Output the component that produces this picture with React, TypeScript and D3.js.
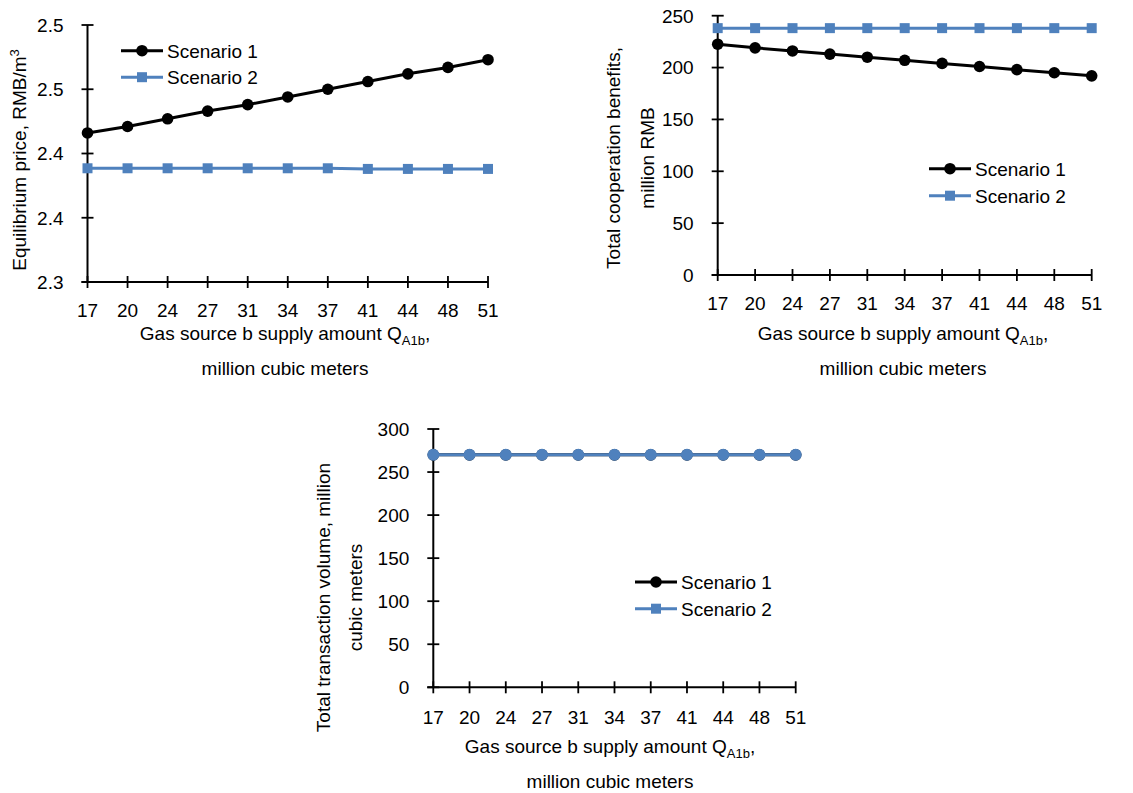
import React from "react";
import * as d3 from "d3";

const categories = ["17", "20", "24", "27", "31", "34", "37", "41", "44", "48", "51"];

const priceS1 = [2.416, 2.421, 2.427, 2.433, 2.438, 2.444, 2.45, 2.456, 2.462, 2.467, 2.473];
const priceS2 = [2.3885, 2.3885, 2.3885, 2.3885, 2.3885, 2.3885, 2.3885, 2.388, 2.388, 2.388, 2.388];
const priceTicks = [2.3, 2.35, 2.4, 2.45, 2.5];
const priceTickLabels = ["2.3", "2.4", "2.4", "2.5", "2.5"];

const benefitS1 = [222.5, 219, 216, 213, 210, 207, 204, 201, 198, 195, 192];
const benefitS2 = [238, 238, 238, 238, 238, 238, 238, 238, 238, 238, 238];
const benefitTicks = [0, 50, 100, 150, 200, 250];
const benefitTickLabels = ["0", "50", "100", "150", "200", "250"];

const volumeS1 = [270, 270, 270, 270, 270, 270, 270, 270, 270, 270, 270];
const volumeS2 = [270, 270, 270, 270, 270, 270, 270, 270, 270, 270, 270];
const volumeTicks = [0, 50, 100, 150, 200, 250, 300];
const volumeTickLabels = ["0", "50", "100", "150", "200", "250", "300"];

const seriesNames = ["Scenario 1", "Scenario 2"];

const BLUE = "#4F81BD";
const FONT = "'Liberation Sans', Arial, Helvetica, sans-serif";
const FS = 19;

type PanelProps = {
  x0: number;
  x1: number;
  yTop: number;
  yBottom: number;
  domain: [number, number];
  ticks: number[];
  tickLabels: string[];
  s1: number[];
  s2: number[];
  xLabelY: number;
  xTitleY1: number;
  xTitleY2: number;
  xTitleCx: number;
  yTitleLines: { x: number; content: React.ReactNode }[];
  yTitleCy: number;
  legendX: number;
  legendY: number;
  legendGap: number;
  s2Circle?: boolean;
};

function Panel(p: PanelProps) {
  const x = d3.scalePoint<string>().domain(categories).range([p.x0, p.x1]);
  const y = d3.scaleLinear().domain(p.domain).range([p.yBottom, p.yTop]);
  const line = d3
    .line<number>()
    .x((_, i) => x(categories[i]) as number)
    .y((d) => y(d));
  const axisX = p.x0;
  const tickLen = 6;
  return (
    <g fontFamily={FONT} fontSize={FS} fill="#000">
      {/* y axis */}
      <line x1={axisX} x2={axisX} y1={y(p.domain[1])} y2={y(p.domain[0])} stroke="#000" strokeWidth={2} />
      {p.ticks.map((t, i) => (
        <g key={"yt" + i}>
          <line x1={axisX - tickLen} x2={axisX + tickLen} y1={y(t)} y2={y(t)} stroke="#000" strokeWidth={1.8} />
          <text x={axisX - 24} y={y(t)} dy="0.36em" textAnchor="end">
            {p.tickLabels[i]}
          </text>
        </g>
      ))}
      {/* x axis */}
      <line x1={axisX - tickLen} x2={p.x1} y1={p.yBottom} y2={p.yBottom} stroke="#000" strokeWidth={2} />
      {categories.map((c) => (
        <g key={"xt" + c}>
          <line x1={x(c)} x2={x(c)} y1={p.yBottom - tickLen} y2={p.yBottom + tickLen} stroke="#000" strokeWidth={1.8} />
          <text x={x(c)} y={p.xLabelY} textAnchor="middle">
            {c}
          </text>
        </g>
      ))}
      {/* x title */}
      <text x={p.xTitleCx} y={p.xTitleY1} textAnchor="middle">
        Gas source b supply amount Q
        <tspan fontSize={13} dy="5">A1b</tspan>
        <tspan dy="-5">,</tspan>
      </text>
      <text x={p.xTitleCx} y={p.xTitleY2} textAnchor="middle">
        million cubic meters
      </text>
      {/* y title */}
      {p.yTitleLines.map((l, i) => (
        <text
          key={"ytl" + i}
          transform={`translate(${l.x},${p.yTitleCy}) rotate(-90)`}
          textAnchor="middle"
          dy="0.36em"
        >
          {l.content}
        </text>
      ))}
      {/* series 1 */}
      <path d={line(p.s1) || ""} fill="none" stroke="#000" strokeWidth={3} />
      {p.s1.map((v, i) => (
        <circle key={"c1" + i} cx={x(categories[i])} cy={y(v)} r={5.8} fill="#000" />
      ))}
      {/* series 2 */}
      <path d={line(p.s2) || ""} fill="none" stroke={BLUE} strokeWidth={3} />
      {p.s2.map((v, i) =>
        p.s2Circle ? (
          <circle key={"c2" + i} cx={x(categories[i])} cy={y(v)} r={6} fill={BLUE} />
        ) : (
          <rect key={"s2" + i} x={(x(categories[i]) as number) - 5} y={y(v) - 5} width={10} height={10} fill={BLUE} />
        )
      )}
      {/* legend */}
      {seriesNames.map((name, i) => {
        const ly = p.legendY + i * p.legendGap;
        const color = i === 0 ? "#000" : BLUE;
        const lx = p.legendX;
        return (
          <g key={"lg" + i}>
            <line x1={lx} x2={lx + 42} y1={ly} y2={ly} stroke={color} strokeWidth={3} />
            {i === 0 ? (
              <circle cx={lx + 21} cy={ly} r={5.8} fill={color} />
            ) : (
              <rect x={lx + 16} y={ly - 5} width={10} height={10} fill={color} />
            )}
            <text x={lx + 46} y={ly} dy="0.36em">
              {name}
            </text>
          </g>
        );
      })}
    </g>
  );
}

export default function App() {
  return (
    <svg
      width={1133}
      height={793}
      style={{ position: "absolute", left: 0, top: 0, background: "#fff" }}
    >
      <rect width={1133} height={793} fill="#fff" />
      <Panel
        x0={87.5}
        x1={488}
        yTop={25}
        yBottom={282}
        domain={[2.3, 2.5]}
        ticks={priceTicks}
        tickLabels={priceTickLabels}
        s1={priceS1}
        s2={priceS2}
        xLabelY={317}
        xTitleY1={340}
        xTitleY2={375}
        xTitleCx={285}
        yTitleCy={160}
        yTitleLines={[
          {
            x: 19,
            content: (
              <>
                Equilibrium price, RMB/m
                <tspan fontSize={13} dy="-7">3</tspan>
              </>
            ),
          },
        ]}
        legendX={121}
        legendY={50.7}
        legendGap={26.5}
      />
      <Panel
        x0={717.7}
        x1={1091.7}
        yTop={15.7}
        yBottom={275}
        domain={[0, 250]}
        ticks={benefitTicks}
        tickLabels={benefitTickLabels}
        s1={benefitS1}
        s2={benefitS2}
        xLabelY={310}
        xTitleY1={340}
        xTitleY2={375}
        xTitleCx={903}
        yTitleCy={158}
        yTitleLines={[
          { x: 613, content: "Total cooperation benefits," },
          { x: 647, content: "million RMB" },
        ]}
        legendX={929}
        legendY={168.7}
        legendGap={27}
      />
      <Panel
        x0={433.3}
        x1={795.7}
        yTop={429}
        yBottom={687.3}
        domain={[0, 300]}
        ticks={volumeTicks}
        tickLabels={volumeTickLabels}
        s1={volumeS1}
        s2={volumeS2}
        xLabelY={724}
        xTitleY1={753}
        xTitleY2={788}
        xTitleCx={610}
        yTitleCy={597.5}
        yTitleLines={[
          { x: 323, content: "Total transaction volume, million" },
          { x: 355, content: "cubic meters" },
        ]}
        legendX={635}
        legendY={582}
        legendGap={26.7}
        s2Circle
      />
    </svg>
  );
}
